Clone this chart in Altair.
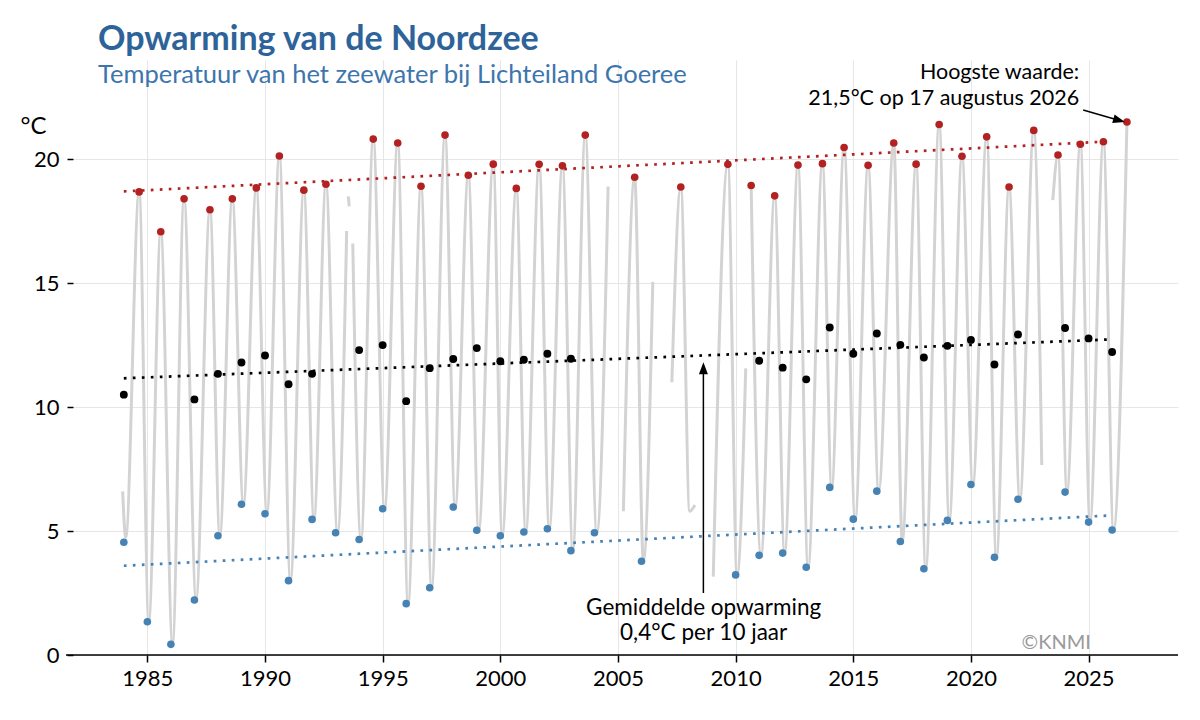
import altair as alt
import pandas as pd

FONT = "Lato"

# ---- annual maxima (date as fractional year, value in degC)
red_t = [1984.65, 1985.57, 1986.56, 1987.66, 1988.61, 1989.63, 1990.61, 1991.65, 1992.59,
         1994.60, 1995.64, 1996.63, 1997.65, 1998.64, 1999.70, 2000.68, 2001.65, 2002.64,
         2003.61, 2005.71, 2007.67, 2009.67, 2010.66, 2011.66, 2012.65, 2013.69, 2014.61,
         2015.63, 2016.72, 2017.67, 2018.65, 2019.62, 2020.67, 2021.62, 2022.67, 2023.70,
         2024.65, 2025.63, 2026.63]
red_v = [18.68, 17.07, 18.40, 17.96, 18.40, 18.84, 20.13, 18.75, 18.99,
         20.81, 20.65, 18.91, 20.97, 19.35, 19.80, 18.82, 19.79, 19.73,
         20.97, 19.27, 18.88, 19.79, 18.94, 18.52, 19.76, 19.82, 20.47,
         19.75, 20.65, 19.80, 21.40, 20.12, 20.90, 18.88, 21.16, 20.17,
         20.60, 20.70, 21.50]

# ---- annual minima
blue_year = [1984, 1985, 1986, 1987, 1988, 1989, 1990, 1991, 1992, 1993, 1994, 1995, 1996,
             1997, 1998, 1999, 2000, 2001, 2002, 2003, 2004, 2006, 2010, 2011, 2012, 2013,
             2014, 2015, 2016, 2017, 2018, 2019, 2020, 2021, 2022, 2024, 2025, 2026]
blue_v = [4.55, 1.34, 0.43, 2.22, 4.81, 6.08, 5.70, 3.00, 5.47, 4.93, 4.66, 5.90, 2.07,
          2.71, 5.97, 5.03, 4.81, 4.96, 5.09, 4.21, 4.93, 3.78, 3.23, 4.02, 4.11, 3.54,
          6.76, 5.48, 6.61, 4.58, 3.48, 5.43, 6.88, 3.94, 6.28, 6.57, 5.36, 5.04]

# ---- annual means
mean_year = [1984, 1987, 1988, 1989, 1990, 1991, 1992, 1994, 1995, 1996, 1997, 1998, 1999,
             2000, 2001, 2002, 2003, 2011, 2012, 2013, 2014, 2015, 2016, 2017, 2018, 2019,
             2020, 2021, 2022, 2024, 2025, 2026]
mean_v = [10.50, 10.31, 11.34, 11.80, 12.08, 10.92, 11.34, 12.30, 12.50, 10.24, 11.57, 11.94,
          12.38, 11.85, 11.91, 12.15, 11.95, 11.87, 11.59, 11.12, 13.21, 12.15, 12.97, 12.51,
          12.00, 12.47, 12.71, 11.72, 12.93, 13.19, 12.77, 12.22]

# ---- linear trends (end points)
trend_t = [1984.0, 2025.95]
trend_max = [18.70, 20.72]
trend_mean = [11.16, 12.73]
trend_min = [3.60, 5.63]

# ---- sea water temperature series (read-off vertices, broken where data are missing)
grey_segments = [
    [(1983.95, 6.6), (1984.08, 4.75), (1984.65, 18.68), (1985.06, 1.4), (1985.57, 17.07),
     (1986.07, 0.5), (1986.56, 18.40), (1987.07, 2.3), (1987.66, 17.96), (1988.08, 4.85),
     (1988.61, 18.40), (1989.08, 6.1), (1989.63, 18.84), (1990.08, 5.75), (1990.61, 20.13),
     (1991.08, 3.05), (1991.65, 18.75), (1992.08, 5.5), (1992.59, 18.99), (1993.08, 4.95),
     (1993.47, 17.1)],
    [(1993.54, 18.5), (1993.58, 18.1)],
    [(1993.73, 16.6), (1994.08, 4.7), (1994.60, 20.81), (1995.08, 5.9), (1995.64, 20.65),
     (1996.08, 2.1), (1996.63, 18.91), (1997.08, 2.75), (1997.65, 20.97), (1998.08, 5.97),
     (1998.64, 19.35), (1999.08, 5.05), (1999.70, 19.80), (2000.08, 4.85), (2000.68, 18.82),
     (2001.08, 4.98), (2001.65, 19.79), (2002.08, 5.1), (2002.64, 19.73), (2003.08, 4.25),
     (2003.61, 20.97), (2004.10, 4.95), (2004.58, 18.9)],
    [(2005.23, 5.8), (2005.71, 19.27), (2006.08, 3.8), (2006.48, 15.05)],
    [(2007.29, 11.0), (2007.67, 18.88), (2008.05, 5.8), (2008.27, 6.05)],
    [(2009.05, 3.16), (2009.67, 19.79), (2010.06, 3.25), (2010.43, 11.56)],
    [(2010.66, 18.94), (2011.08, 4.05), (2011.66, 18.52), (2012.08, 4.12), (2012.65, 19.76),
     (2013.08, 3.55), (2013.69, 19.82), (2014.08, 6.76), (2014.61, 20.47), (2015.08, 5.5),
     (2015.63, 19.75), (2016.08, 6.61), (2016.72, 20.65), (2017.08, 4.6), (2017.67, 19.80),
     (2018.08, 3.5), (2018.65, 21.40), (2019.08, 5.45), (2019.62, 20.12), (2020.08, 6.88),
     (2020.67, 20.90), (2021.08, 3.95), (2021.62, 18.88), (2022.08, 6.3), (2022.67, 21.16),
     (2023.01, 7.66)],
    [(2023.48, 18.35), (2023.70, 20.17), (2024.08, 6.6), (2024.65, 20.60), (2025.06, 5.38),
     (2025.63, 20.70), (2026.06, 5.06), (2026.63, 21.50)],
]

x_ticks = [1985, 1990, 1995, 2000, 2005, 2010, 2015, 2020, 2025]
y_ticks = [0, 5, 10, 15, 20]

# annotations
hi_text = ["Hoogste waarde:", "21,5°C op 17 augustus 2026"]
hi_text_t = [2024.6, 2024.6]
hi_text_v = [23.25, 22.18]
hi_arrow = {"t": 2024.77, "v": 21.98, "t2": 2026.24, "v2": 21.58}
avg_text = ["Gemiddelde opwarming", "0,4°C per 10 jaar"]
avg_text_t = [2008.64, 2008.64]
avg_text_v = [1.61, 0.60]
avg_arrow = {"t": 2008.63, "v": 2.5, "v2": 11.4, "vh": 11.51}
credit = {"t": 2025.1, "v": 0.24, "text": "©KNMI"}

RED, BLUE, GREY = "#b22222", "#4682b4", "#d3d3d3"
W, H = 1105, 595

xs = alt.Scale(domain=[1981.84, 2028.8], nice=False, zero=False)
ys = alt.Scale(domain=[0, 24], nice=False, zero=False)

x_axis = alt.Axis(
    values=x_ticks, format="d", title=None, grid=True, gridColor="#e6e6e6",
    gridWidth=1, domain=False, ticks=True, tickSize=7, tickWidth=1.5,
    tickColor="black", labelFontSize=22, labelFont=FONT, labelColor="black",
    labelPadding=6)
y_axis = alt.Axis(
    values=y_ticks, format="d", title="°C", titleAngle=0, titleX=-53, titleY=73,
    titleAlign="left", titleBaseline="alphabetic", titleFontSize=24,
    titleFontWeight="normal", titleFont=FONT, titleColor="black",
    grid=True, gridColor="#e6e6e6", gridWidth=1, domain=False,
    tickSize=6, tickWidth=1.5, tickColor="black", labelFontSize=22,
    labelFont=FONT, labelColor="black", labelPadding=8)


def X(f="t"):
    return alt.X(f"{f}:Q", scale=xs, axis=x_axis)


def Y(f="v"):
    return alt.Y(f"{f}:Q", scale=ys, axis=y_axis)


grey_df = pd.DataFrame([{"t": t, "v": v, "seg": i}
                        for i, seg in enumerate(grey_segments) for t, v in seg])
red_df = pd.DataFrame({"t": red_t, "v": red_v})
blue_df = pd.DataFrame({"t": blue_year, "v": blue_v})
mean_df = pd.DataFrame({"t": mean_year, "v": mean_v})
trend_df = pd.DataFrame({
    "t": trend_t * 3,
    "v": trend_max + trend_mean + trend_min,
    "s": ["max"] * 2 + ["mean"] * 2 + ["min"] * 2,
})

grey = alt.Chart(grey_df).mark_line(
    color=GREY, strokeWidth=3, interpolate="monotone", strokeJoin="round"
).encode(x=X(), y=Y(), detail="seg:N")

baseline = alt.Chart(pd.DataFrame({"a": [0]})).mark_rule(
    color="black", strokeWidth=1.5
).encode(x=alt.value(-7), x2=alt.value(W), y=alt.value(H))

trends = alt.Chart(trend_df).mark_line(
    strokeWidth=2.7, strokeDash=[2.7, 6.3], strokeCap="butt"
).encode(
    x=X(), y=Y(), detail="s:N",
    color=alt.Color("s:N", scale=alt.Scale(domain=["max", "mean", "min"],
                                           range=[RED, "black", BLUE]), legend=None),
)

pts_red = alt.Chart(red_df).mark_circle(color=RED, size=58, opacity=1).encode(x=X(), y=Y())
pts_blue = alt.Chart(blue_df).mark_circle(color=BLUE, size=58, opacity=1).encode(x=X(), y=Y())
pts_mean = alt.Chart(mean_df).mark_circle(color="black", size=62, opacity=1).encode(x=X(), y=Y())

hi_df = pd.DataFrame({"t": hi_text_t, "v": hi_text_v, "text": hi_text})
hi_lbl = alt.Chart(hi_df).mark_text(
    align="right", baseline="alphabetic", font=FONT, fontSize=21.5, color="black"
).encode(x=X(), y=Y(), text="text:N")

hi_line = alt.Chart(pd.DataFrame([hi_arrow])).mark_rule(color="black", strokeWidth=1.5).encode(
    x=X(), y=Y(), x2="t2:Q", y2="v2:Q")
hi_head = alt.Chart(pd.DataFrame([hi_arrow])).mark_point(
    shape="M1,0L-0.6,-0.6L-0.6,0.6Z", filled=True, color="black", opacity=1,
    size=225, angle=15.7, strokeWidth=0
).encode(x=X("t2"), y=Y("v2"))

avg_df = pd.DataFrame({"t": avg_text_t, "v": avg_text_v, "text": avg_text})
avg_lbl = alt.Chart(avg_df).mark_text(
    align="center", baseline="alphabetic", font=FONT, fontSize=22.5, color="black"
).encode(x=X(), y=Y(), text="text:N")

avg_line = alt.Chart(pd.DataFrame([avg_arrow])).mark_rule(color="black", strokeWidth=1.5).encode(
    x=X(), y=Y(), y2="v2:Q")
avg_head = alt.Chart(pd.DataFrame([avg_arrow])).mark_point(
    shape="M0,-1L0.6,0.6L-0.6,0.6Z", filled=True, color="black", opacity=1,
    size=225, strokeWidth=0
).encode(x=X(), y=Y("vh"))

credit_lbl = alt.Chart(pd.DataFrame([credit])).mark_text(
    align="right", baseline="alphabetic", font=FONT, fontSize=20, color="#999999"
).encode(x=X(), y=Y(), text="text:N")

chart = alt.layer(
    grey, baseline, trends, pts_red, pts_mean, pts_blue,
    hi_line, hi_head, hi_lbl, avg_line, avg_head, avg_lbl, credit_lbl
).properties(
    width=W, height=H,
    background="white",
    autosize=alt.AutoSizeParams(type="none"),
    padding={"left": 65, "top": 52, "right": 14, "bottom": 50},
    title=alt.TitleParams(
        text="Opwarming van de Noordzee",
        subtitle="Temperatuur van het zeewater bij Lichteiland Goeree",
        anchor="start", frame="group", dx=25, offset=-28,
        font=FONT, fontSize=34, fontWeight="bold", color="#2e6399",
        subtitleFont=FONT, subtitleFontSize=25.5, subtitleColor="#3d75ad",
        subtitlePadding=6,
    ),
).configure_view(strokeWidth=0, stroke="transparent")

chart.save("out.html", embed_options={"renderer": "svg", "actions": False})
